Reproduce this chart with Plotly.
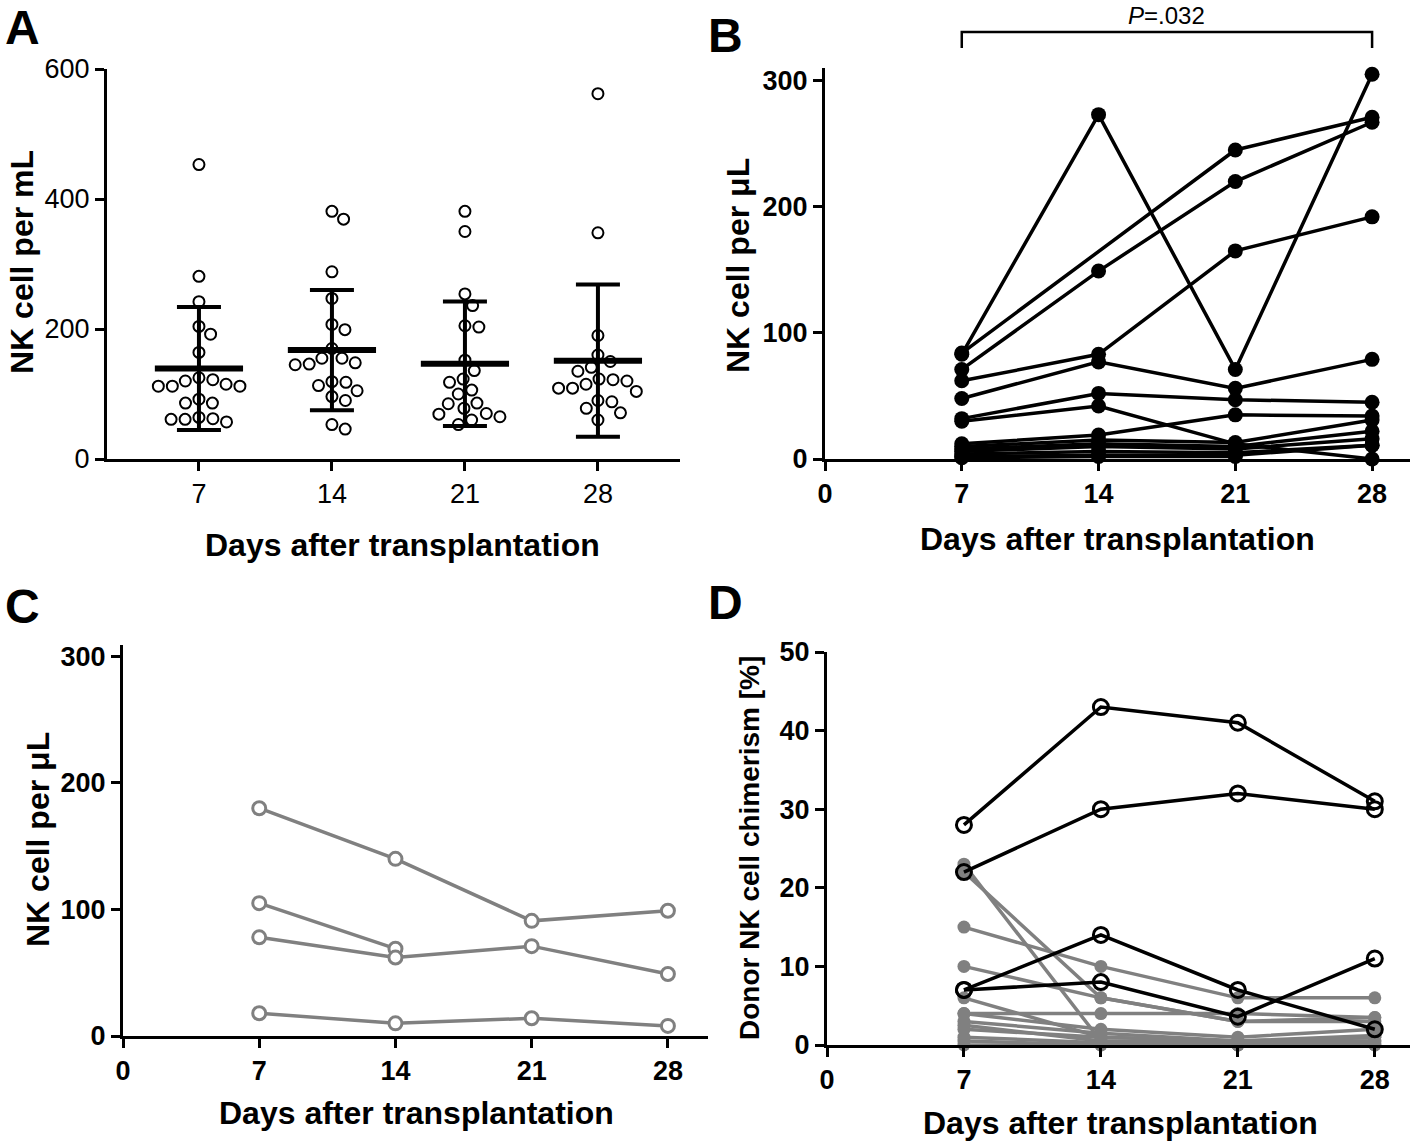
import numpy as np
import plotly.graph_objects as go

W, H = 1418, 1143
FONT = "Arial, Liberation Sans, sans-serif"
GRAY = "#808080"

days = [7, 14, 21, 28]
a_ticks = [0, 200, 400, 600]
b_ticks = [0, 100, 200, 300]
d_ticks = [0, 10, 20, 30, 40, 50]
x_ticks = [0, 7, 14, 21, 28]

# ---- Panel A: NK cells per mL (individual values) ----
a_day7 = [453, 281, 242, 204, 192, 164, 125, 122, 120, 115, 112, 112, 112, 92, 86, 86, 64, 62, 61, 61, 57]
a_day14 = [381, 369, 288, 247, 207, 199, 170, 155, 155, 148, 146, 145, 119, 118, 113, 105, 96, 90, 53, 46]
a_day21 = [381, 350, 254, 236, 205, 203, 152, 136, 123, 118, 106, 100, 86, 85, 78, 70, 69, 65, 60, 53]
a_day28 = [562, 348, 190, 160, 150, 141, 135, 123, 122, 120, 115, 109, 109, 104, 90, 88, 78, 71, 60]

# ---- Panel B: NK cells per uL, patient trajectories (black) ----
b_p1 = [83, 273, 71, 305]
b_p2 = [84, None, 245, 271]
b_p3 = [71, 149, 220, 267]
b_p4 = [62, 83, 165, 192]
b_p5 = [48, 77, 56, 79]
b_p6 = [32, 52, 47, 45]
b_p7 = [30, 42, 12, 0]
b_p8 = [12, 19, 35, 34]
b_p9 = [10, 15, 13, 31]
b_p10 = [8, 12, 10, 22]
b_p11 = [6, 10, 8, 16]
b_p12 = [4, 6, 5, 11]
b_p13 = [2, 3, 3, 11]
b_p14 = [1, 2, 2, None]

# ---- Panel C: NK cells per uL (gray) ----
c_p1 = [180, 140, 91, 99]
c_p2 = [105, 69, None, None]
c_p3 = [78, 62, 71, 49]
c_p4 = [18, 10, 14, 8]

# ---- Panel D: donor NK cell chimerism [%] ----
d_black1 = [28, 43, 41, 31]
d_black2 = [22, 30, 32, 30]
d_black3 = [7, 14, 7, 2]
d_black4 = [7, 8, 3.6, 11]
d_gray1 = [23, 0.5, 0.3, 1]
d_gray2 = [22, 6, 3, 3.5]
d_gray3 = [15, 10, 6, 6]
d_gray4 = [10, 6, 3, 3]
d_gray5 = [6, 1, 0.5, 0.5]
d_gray6 = [4, 4, 4, 3.5]
d_gray7 = [4, 2, 1, 2]
d_gray8 = [3, 1.5, 0.5, 1]
d_gray9 = [2.5, 0.5, 0, 0.5]
d_gray10 = [2, 1, 0.5, 1.2]
d_gray11 = [1, 0.3, 0, 0]
d_gray12 = [0.5, 0, 0, 0.3]
d_gray13 = [0, 0, 0, 0]

# ---------------- layout geometry (pixels) ----------------
def xdom(l, r):
    return [l / W, r / W]

def ydom(b, t):
    return [1 - b / H, 1 - t / H]

A_XPX, A_YPX, A_XR, A_YR = (107, 680), (459, 69), [2.16, 32.32], [0, 600]
B_XPX, B_YPX, B_XR, B_YR = (825, 1410), (459, 68), [0, 29.94], [0, 310]
C_XPX, C_YPX, C_XR, C_YR = (123, 708), (1036, 645), [0, 30.06], [0, 309]
D_XPX, D_YPX, D_XR, D_YR = (827, 1410), (1045, 652), [0, 29.8], [0, 50]


def swarm_offsets(vals, xppu, yppu, d):
    """Simple beeswarm: returns x offsets in data units."""
    vals = np.asarray(vals, float)
    order = np.argsort(-vals, kind="stable")
    placed = []
    offs = np.zeros(len(vals))
    for i in order:
        y = vals[i] * yppu
        cands = [0.0]
        for xo, yo in placed:
            dy = y - yo
            if abs(dy) < d:
                dx = np.sqrt(d * d - dy * dy)
                cands += [xo + dx, xo - dx]
        best = 0.0
        for c in sorted(cands, key=lambda v: (abs(v), -v)):
            if all((c - xo) ** 2 + (y - yo) ** 2 >= d * d - 1e-6 for xo, yo in placed):
                best = c
                break
        offs[i] = best
        placed.append((best, y))
    return offs / xppu


fig = go.Figure()

# ---------------- Panel A ----------------
a_xppu = (A_XPX[1] - A_XPX[0]) / (A_XR[1] - A_XR[0])
a_yppu = (A_YPX[0] - A_YPX[1]) / (A_YR[1] - A_YR[0])
a_groups = [a_day7, a_day14, a_day21, a_day28]
for day, vals in zip(days, a_groups):
    offs = swarm_offsets(vals, a_xppu, a_yppu, 14.0)
    fig.add_trace(go.Scatter(
        x=np.array([day] * len(vals)) + offs, y=vals, mode="markers",
        marker=dict(symbol="circle", size=11, color="white",
                    line=dict(color="black", width=2)),
        xaxis="x", yaxis="y", cliponaxis=False, hoverinfo="skip"))
means = [float(np.mean(v)) for v in a_groups]
sds = [float(np.std(v, ddof=1)) for v in a_groups]
fig.add_trace(go.Scatter(
    x=days, y=means, mode="markers",
    marker=dict(symbol="line-ew", size=63, color="black",
                line=dict(color="black", width=6)),
    error_y=dict(type="data", array=sds, visible=True, thickness=4,
                 width=22, color="black"),
    xaxis="x", yaxis="y", cliponaxis=False, hoverinfo="skip"))

# ---------------- Panel B ----------------
for p in [b_p1, b_p2, b_p3, b_p4, b_p5, b_p6, b_p7, b_p8, b_p9, b_p10,
          b_p11, b_p12, b_p13, b_p14]:
    fig.add_trace(go.Scatter(
        x=days, y=p, mode="lines+markers", connectgaps=True,
        line=dict(color="black", width=3.5),
        marker=dict(symbol="circle", size=15, color="black"),
        xaxis="x2", yaxis="y2", cliponaxis=False, hoverinfo="skip"))

# ---------------- Panel C ----------------
for p in [c_p1, c_p2, c_p3, c_p4]:
    fig.add_trace(go.Scatter(
        x=days, y=p, mode="lines+markers",
        line=dict(color=GRAY, width=3.5),
        marker=dict(symbol="circle", size=13, color="white",
                    line=dict(color=GRAY, width=3)),
        xaxis="x3", yaxis="y3", cliponaxis=False, hoverinfo="skip"))

# ---------------- Panel D ----------------
for p in [d_gray1, d_gray2, d_gray3, d_gray4, d_gray5, d_gray6, d_gray7,
          d_gray8, d_gray9, d_gray10, d_gray11, d_gray12, d_gray13]:
    fig.add_trace(go.Scatter(
        x=days, y=p, mode="lines+markers",
        line=dict(color=GRAY, width=3.5),
        marker=dict(symbol="circle", size=13, color=GRAY),
        xaxis="x4", yaxis="y4", cliponaxis=False, hoverinfo="skip"))
for p in [d_black1, d_black2, d_black3, d_black4]:
    fig.add_trace(go.Scatter(
        x=days, y=p, mode="lines+markers",
        line=dict(color="black", width=3.5),
        marker=dict(symbol="circle-open", size=15, color="black",
                    line=dict(color="black", width=3)),
        xaxis="x4", yaxis="y4", cliponaxis=False, hoverinfo="skip"))

# ---------------- axes ----------------
def axis(domain, rng, tickvals, bold, anchor):
    return dict(domain=domain, range=rng, tickvals=tickvals, automargin=False,
                showline=True, linewidth=3, linecolor="black",
                ticks="outside", ticklen=9, tickwidth=3, tickcolor="black",
                showgrid=False, zeroline=False, anchor=anchor,
                tickfont=dict(family=FONT, size=27, color="black",
                              weight="bold" if bold else "normal"))

fig.update_layout(
    template="none",
    width=W, height=H, margin=dict(l=0, r=0, t=0, b=0, pad=0, autoexpand=False),
    plot_bgcolor="white", paper_bgcolor="white", showlegend=False,
    xaxis=axis(xdom(*A_XPX), A_XR, days, False, "y"),
    yaxis=axis(ydom(*A_YPX), A_YR, a_ticks, False, "x"),
    xaxis2=axis(xdom(*B_XPX), B_XR, x_ticks, True, "y2"),
    yaxis2=axis(ydom(*B_YPX), B_YR, b_ticks, True, "x2"),
    xaxis3=axis(xdom(*C_XPX), C_XR, x_ticks, True, "y3"),
    yaxis3=axis(ydom(*C_YPX), C_YR, b_ticks, True, "x3"),
    xaxis4=axis(xdom(*D_XPX), D_XR, x_ticks, True, "y4"),
    yaxis4=axis(ydom(*D_YPX), D_YR, d_ticks, True, "x4"),
)

# ---------------- text annotations ----------------
def ann(text, x, y, size, angle=0, bold=True):
    fig.add_annotation(text=text, x=x / W, y=1 - y / H, xref="paper", yref="paper",
                       showarrow=False, textangle=angle,
                       xanchor="center", yanchor="middle",
                       font=dict(family=FONT, size=size, color="black",
                                 weight="bold" if bold else "normal"))

for letter, (lx, ly) in zip("ABCD", [(22, 28), (725, 36), (22, 606), (725, 602)]):
    ann(letter, lx, ly, 48)

ann("Days after transplantation", 402, 545, 32)
ann("Days after transplantation", 1117, 539, 32)
ann("Days after transplantation", 416, 1113, 32)
ann("Days after transplantation", 1120, 1123, 32)

ann("NK cell per mL", 22, 262, 32, angle=-90)
ann("NK cell per μL", 738, 266, 32, angle=-90)
ann("NK cell per μL", 38, 840, 32, angle=-90)
ann("Donor NK cell chimerism [%]", 749, 848, 28, angle=-90)

# P-value bracket in panel B
y_top = 1 - 32 / H
y_bot = 1 - 48 / H
fig.add_shape(type="path", xref="x2", yref="paper",
              path=f"M {days[0]},{y_bot} L {days[0]},{y_top} L {days[-1]},{y_top} L {days[-1]},{y_bot}",
              line=dict(color="black", width=2.5))
fig.add_annotation(text="<i>P</i>=.032", x=(days[0] + days[-1]) / 2, y=1 - 15 / H,
                   xref="x2", yref="paper", showarrow=False,
                   xanchor="center", yanchor="middle",
                   font=dict(family=FONT, size=24, color="black"))

fig.write_html("out.html", config={"displayModeBar": False},
               post_script="document.body.style.margin='0px';")
